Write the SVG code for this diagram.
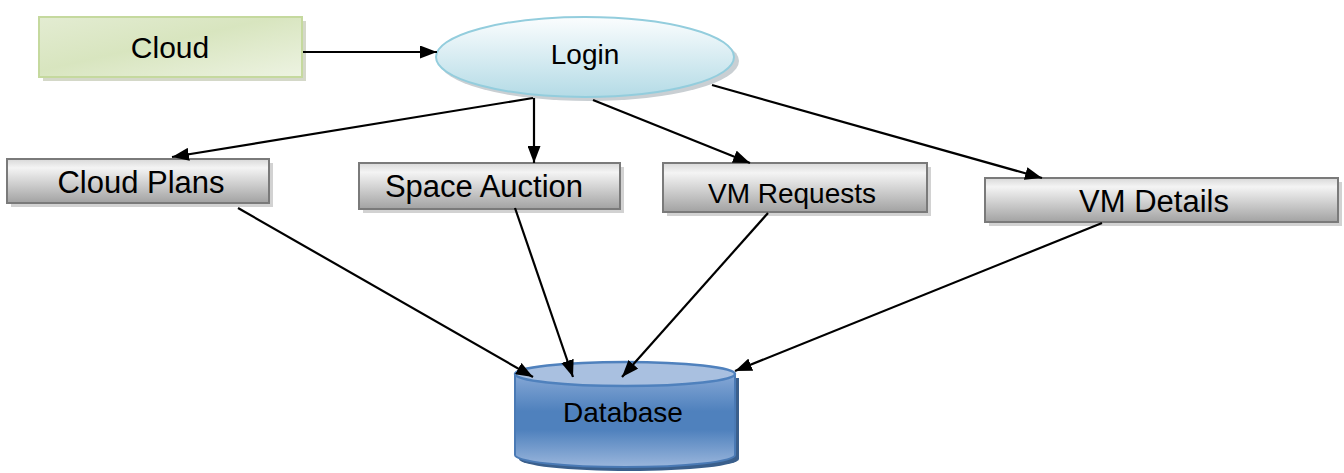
<svg xmlns="http://www.w3.org/2000/svg" width="1344" height="473" viewBox="0 0 1344 473">
  <defs>
    <linearGradient id="gGreen" x1="0" y1="0" x2="1" y2="1">
      <stop offset="0" stop-color="#e3ecd2"/>
      <stop offset="0.45" stop-color="#d8e5bf"/>
      <stop offset="1" stop-color="#edf3e2"/>
    </linearGradient>
    <linearGradient id="gBlue" x1="0" y1="0" x2="0" y2="1">
      <stop offset="0" stop-color="#fbfdfe"/>
      <stop offset="1" stop-color="#b4dbe6"/>
    </linearGradient>
    <linearGradient id="gGray" x1="0" y1="0" x2="0" y2="1">
      <stop offset="0" stop-color="#d8d8d8"/>
      <stop offset="0.2" stop-color="#f4f4f4"/>
      <stop offset="1" stop-color="#a2a2a2"/>
    </linearGradient>
    <linearGradient id="gDbBody" x1="0" y1="0" x2="0" y2="1">
      <stop offset="0" stop-color="#86a8d6"/>
      <stop offset="0.4" stop-color="#4f81bd"/>
      <stop offset="0.6" stop-color="#4f81bd"/>
      <stop offset="1" stop-color="#9ab6dc"/>
    </linearGradient>
    <marker id="arrow" viewBox="0 0 17 13" refX="17" refY="6.5" markerWidth="17" markerHeight="13" markerUnits="userSpaceOnUse" orient="auto">
      <path d="M0,0 L17,6.5 L0,13 Z" fill="#000"/>
    </marker>
  </defs>
  <style>
    .label { font-family: "Liberation Sans", Arial, sans-serif; fill: #000; text-anchor: middle; }
    .box { fill: url(#gGray); stroke: #7a7a7a; stroke-width: 2; }
    .shadow { fill: #d2d2d2; }
    .edge { stroke: #000; stroke-width: 2.2; fill: none; marker-end: url(#arrow); }
  </style>

  <rect width="1344" height="473" fill="#fff"/>

  <!-- Cloud -->
  <g id="node-cloud">
    <rect x="43" y="21" width="263" height="60" fill="#d4d8c8"/>
    <rect x="39" y="17" width="263" height="60" fill="url(#gGreen)" stroke="#c5d99e" stroke-width="2"/>
    <text class="label" x="170" y="58" font-size="30">Cloud</text>
  </g>

  <!-- Login -->
  <g id="node-login">
    <ellipse cx="589" cy="61" rx="150" ry="40" fill="#c9cfd3"/>
    <ellipse cx="585" cy="57" rx="149" ry="40" fill="url(#gBlue)" stroke="#93cddd" stroke-width="2"/>
    <text class="label" x="585" y="64" font-size="28">Login</text>
  </g>

  <!-- Cloud Plans -->
  <g id="node-cloud-plans">
    <rect class="shadow" x="11" y="163" width="262" height="44"/>
    <rect class="box" x="7" y="159" width="262" height="44"/>
    <text class="label" x="141" y="193" font-size="31">Cloud Plans</text>
  </g>

  <!-- Space Auction -->
  <g id="node-space-auction">
    <rect class="shadow" x="363" y="167" width="261" height="46"/>
    <rect class="box" x="359" y="163" width="261" height="46"/>
    <text class="label" x="484" y="197" font-size="31">Space Auction</text>
  </g>

  <!-- VM Requests -->
  <g id="node-vm-requests">
    <rect class="shadow" x="667" y="167" width="264" height="49"/>
    <rect class="box" x="663" y="163" width="264" height="49"/>
    <text class="label" x="792" y="203" font-size="28">VM Requests</text>
  </g>

  <!-- VM Details -->
  <g id="node-vm-details">
    <rect class="shadow" x="989" y="182" width="353" height="44"/>
    <rect class="box" x="985" y="178" width="353" height="44"/>
    <text class="label" x="1154" y="212" font-size="31">VM Details</text>
  </g>

  <!-- Database -->
  <g id="node-database">
    <path d="M519,378 L519,459 A110,12 0 0 0 739,459 L739,378 Z" fill="#3a5f8c"/>
    <path d="M515,374 L515,455 A110,12 0 0 0 735,455 L735,374 Z" fill="url(#gDbBody)" stroke="#4a7ab5" stroke-width="2"/>
    <ellipse cx="625" cy="374" rx="110" ry="12" fill="#a9c0e0" stroke="#4f81bd" stroke-width="2.5"/>
    <text class="label" x="623" y="422" font-size="28">Database</text>
  </g>

  <!-- connectors (drawn last so arrowheads sit on top of the shapes) -->
  <g id="connectors">
    <line class="edge" x1="303" y1="52" x2="437" y2="52"/>
    <polyline class="edge" points="533,98 172,157"/>
    <line class="edge" x1="534" y1="98" x2="534" y2="163"/>
    <line class="edge" x1="593" y1="100" x2="750" y2="163"/>
    <line class="edge" x1="712" y1="85" x2="1042" y2="178"/>
    <line class="edge" x1="238" y1="208" x2="533" y2="377"/>
    <line class="edge" x1="515" y1="208" x2="573" y2="377"/>
    <line class="edge" x1="768" y1="213" x2="622" y2="377"/>
    <line class="edge" x1="1102" y1="223" x2="735" y2="371"/>
  </g>
</svg>
